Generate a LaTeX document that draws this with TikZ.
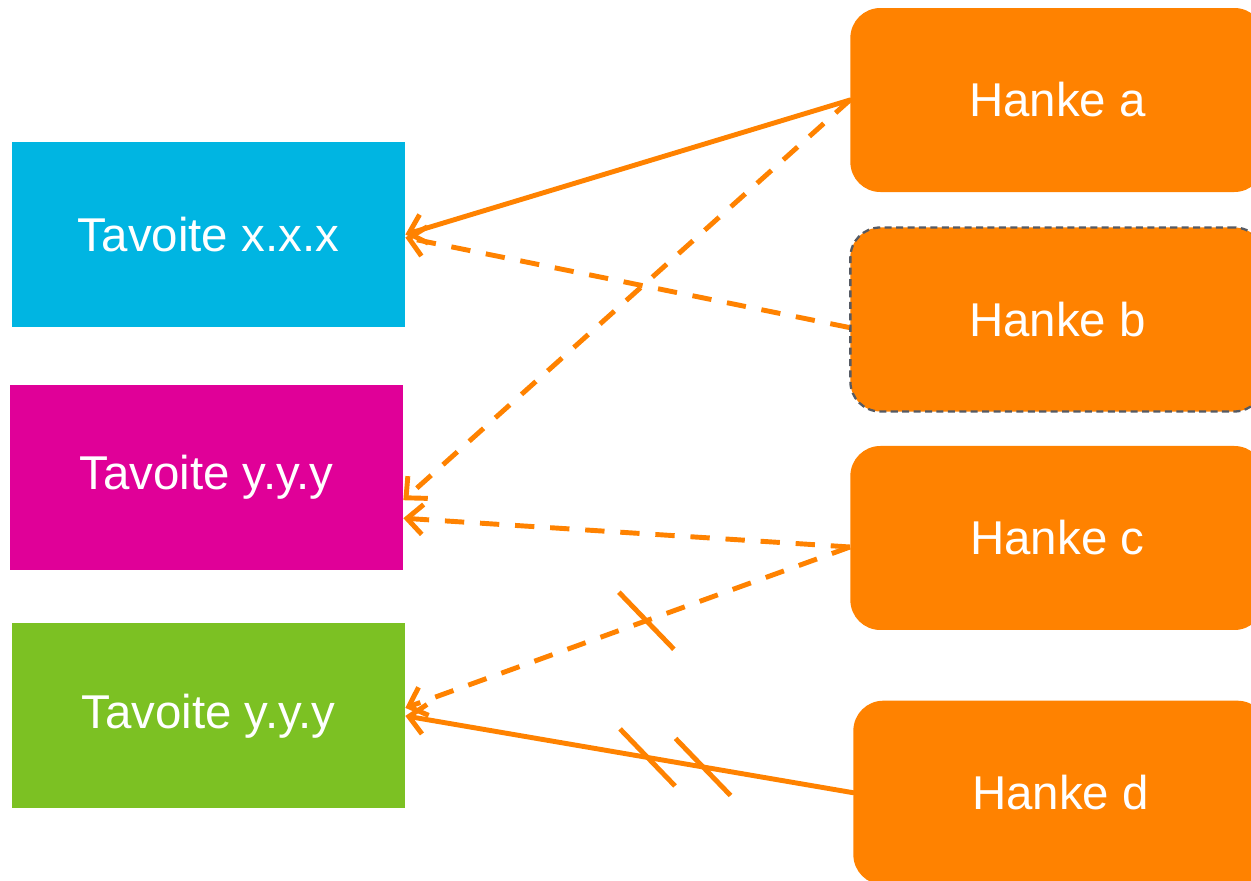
\documentclass[tikz,border=0pt]{standalone}
\usepackage{fontspec}
\setmainfont{Liberation Sans}
\usetikzlibrary{arrows.meta,positioning,calc}

\definecolor{hankeorange}{RGB}{255,130,0}
\definecolor{goalcyan}{RGB}{0,181,226}
\definecolor{goalmagenta}{RGB}{224,0,152}
\definecolor{goalgreen}{RGB}{124,193,35}
\definecolor{borderGray}{RGB}{85,90,100}

\begin{document}
\begin{tikzpicture}[>={Straight Barb[length=9pt,width=17pt]},
    goal/.style={rectangle, minimum width=7.86cm, minimum height=3.7cm, inner sep=0pt,
      text=white, font=\fontsize{27}{30}\selectfont},
    hanke/.style={rectangle, rounded corners=0.6cm, fill=hankeorange, minimum width=8.28cm,
      minimum height=3.68cm, inner sep=0pt, text=white, font=\fontsize{27}{30}\selectfont},
    link/.style={draw=hankeorange, line width=2.8pt, line cap=round},
    maybe/.style={link, line cap=butt, dash pattern=on 11pt off 9pt},
    tick/.style={draw=hankeorange, line width=2.8pt}]
        \useasboundingbox (0,0) rectangle (25.02,-17.6);

        \node[goal, fill=goalcyan] (tx) at (4.17,-4.69) {Tavoite x.x.x};
        \node[goal, fill=goalmagenta] (ty) [below=1.14cm of tx, xshift=-0.04cm] {Tavoite y.y.y};
        \node[goal, fill=goalgreen] (tg) [below=1.06cm of ty, xshift=0.04cm] {Tavoite y.y.y};

        \node[hanke, anchor=west] (ha) at (17.0,-2.0) {Hanke a};
        \node[hanke, draw=borderGray, line width=1.3pt, dash pattern=on 4pt off 2.5pt] (hb) [below=0.68cm of ha] {Hanke b};
        \node[hanke] (hc) [below=0.66cm of hb] {Hanke c};
        \node[hanke] (hd) [below=1.4cm of hc, xshift=0.06cm] {Hanke d};

        \coordinate (hbout) at ([yshift=-0.16cm]hb.west);
        \coordinate (hcout) at ([yshift=-0.18cm]hc.west);

        \draw[link, ->] (ha.west) -- (tx.east);
        \draw[maybe, ->] (hbout) -- ([yshift=-0.06cm]tx.east);
        \draw[maybe, ->] (ha.west) -- ([yshift=-0.46cm]ty.east);
        \draw[maybe, ->] (hcout) -- ([yshift=-0.82cm]ty.east);
        \draw[maybe, ->] (hcout) -- ([yshift=0.16cm]tg.east);
        \draw[link, ->] (hd.west) -- (tg.east);

        % broken links
        \draw[tick] ($(hcout)!0.458!([yshift=0.16cm]tg.east)$) +(-0.55,0.57) -- +(0.55,-0.57);
        \draw[tick] ($(hd.west)!0.459!(tg.east)$) +(-0.55,0.57) -- +(0.55,-0.57);
        \draw[tick] ($(hd.west)!0.335!(tg.east)$) +(-0.55,0.57) -- +(0.55,-0.57);
      \end{tikzpicture}
\end{document}
